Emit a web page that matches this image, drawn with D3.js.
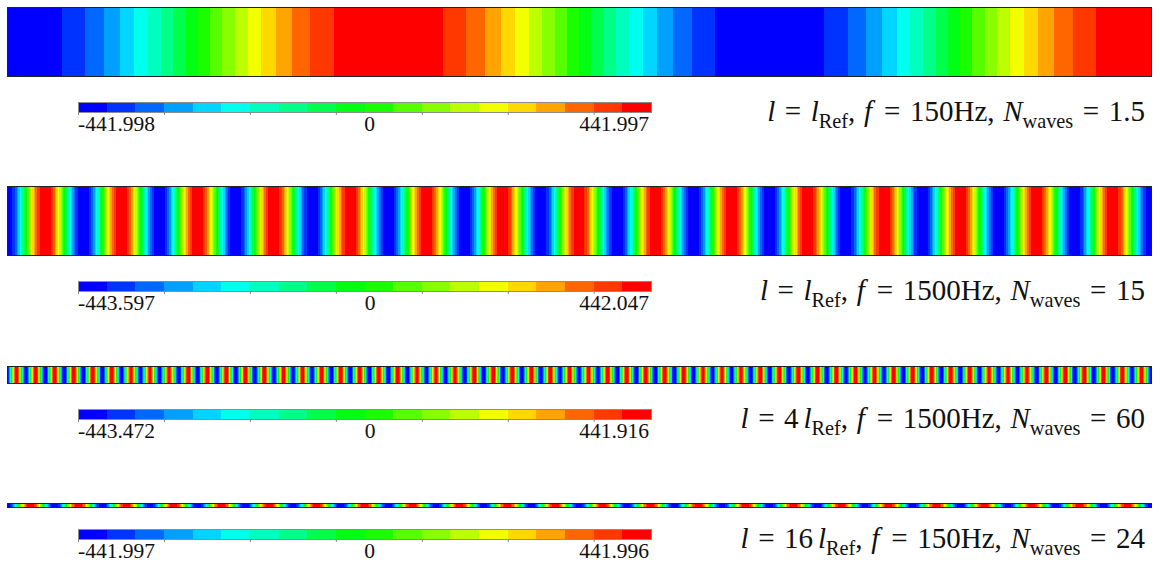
<!DOCTYPE html>
<html>
<head>
<meta charset="utf-8">
<script src="https://cdn.jsdelivr.net/npm/d3@7"></script>
<style>
  body { margin: 0; background: #fff; }
  svg { display: block; }
</style>
</head>
<body>
<script>
// four wave cases, top to bottom
var lengthFactor = [1, 1, 4, 16];
var lengthText = ["", "", "4", "16"];
var freqHz = [150, 1500, 1500, 150];
var nWaves = [1.5, 15, 60, 24];
var minVals = [-441.998, -443.597, -443.472, -441.997];
var maxVals = [441.997, 442.047, 441.916, 441.996];

// 20 contour levels (tecplot style rainbow)
var levelColors = ["#0000ff", "#0033ff", "#0068ff", "#00a0ff", "#00d6ff",
                   "#00ffee", "#00ffbe", "#00ff88", "#00ff4c", "#00ff12",
                   "#1aff00", "#55ff00", "#88ff00", "#bbff00", "#f2ff00",
                   "#ffd800", "#ffa400", "#ff6600", "#ff3800", "#ff0000"];

var W = 1160, H = 569;
var svg = d3.select("body").append("svg").attr("width", W).attr("height", H);

// layout
var stripX = [7, 1151];
var stripTops = [7, 186, 366, 503];
var baseHeight = 69;
var labelBase = [121, 300, 428, 548];
var barX = [78, 651];
var fs = 29;

nWaves.forEach(function(n, i) {
  var g = svg.append("g");
  var color = d3.scaleQuantize().domain([minVals[i], maxVals[i]]).range(levelColors);
  var x = d3.scaleLinear().domain([0, n]).range(stripX);
  var mid = (minVals[i] + maxVals[i]) / 2, amp = (maxVals[i] - minVals[i]) / 2;
  var h = baseHeight / lengthFactor[i];
  var top = stripTops[i];

  // sample the field per pixel column, merge equal colours into runs
  var runs = [];
  for (var px = stripX[0]; px < stripX[1]; px++) {
    var ph = x.invert(px + 0.5);
    var c = color(mid - amp * Math.cos(2 * Math.PI * ph));
    var last = runs[runs.length - 1];
    if (last && last.c === c) last.x1 = px + 1;
    else runs.push({x0: px, x1: px + 1, c: c});
  }
  g.selectAll("rect.band").data(runs).enter().append("rect")
    .attr("class", "band")
    .attr("x", function(d) { return d.x0; })
    .attr("width", function(d) { return d.x1 - d.x0; })
    .attr("y", top).attr("height", h)
    .attr("fill", function(d) { return d.c; })
    .attr("shape-rendering", "crispEdges");
  g.append("rect")
    .attr("x", stripX[0]).attr("y", top)
    .attr("width", stripX[1] - stripX[0]).attr("height", h)
    .attr("fill", "none").attr("stroke", "#222").attr("stroke-width", 1)
    .attr("shape-rendering", "crispEdges");

  // colour bar
  var barTop = labelBase[i] - 19, barH = 10;
  var xb = d3.scaleLinear().domain([minVals[i], maxVals[i]]).range(barX);
  var edges = [minVals[i]].concat(color.thresholds(), [maxVals[i]]);
  g.selectAll("rect.lev").data(levelColors).enter().append("rect")
    .attr("class", "lev")
    .attr("x", function(d, k) { return xb(edges[k]); })
    .attr("width", function(d, k) { return xb(edges[k + 1]) - xb(edges[k]); })
    .attr("y", barTop).attr("height", barH)
    .attr("fill", function(d) { return d; })
    .attr("shape-rendering", "crispEdges");
  g.append("rect")
    .attr("x", barX[0]).attr("y", barTop)
    .attr("width", barX[1] - barX[0]).attr("height", barH)
    .attr("fill", "none").attr("stroke", "#8c8c8c")
    .attr("shape-rendering", "crispEdges");
  var ax = g.append("g").attr("transform", "translate(0," + (barTop + barH) + ")")
    .call(d3.axisBottom(xb)
      .tickValues(edges.filter(function(d, k) { return k % 3 === 0 && k < 20; }))
      .tickSize(3).tickFormat(""));
  ax.select(".domain").remove();
  ax.selectAll("line").attr("stroke", "#888");

  var lab = g.append("g").attr("font-family", "'Liberation Serif', 'Times New Roman', serif")
    .attr("font-size", 21.5).attr("fill", "#111");
  var ly = barTop + 29;
  lab.append("text").attr("x", xb(minVals[i])).attr("y", ly)
    .attr("text-anchor", "start").text(minVals[i].toFixed(3));
  lab.append("text").attr("x", xb(0) + 5).attr("y", ly)
    .attr("text-anchor", "middle").text("0");
  lab.append("text").attr("x", xb(maxVals[i]) - 2).attr("y", ly)
    .attr("text-anchor", "end").text(maxVals[i].toFixed(3));

  // case label, math style
  var rel = 0.33, com = 0.3, sub = 0.24;
  var toks = [{t: "l", it: 1}, {t: "=", dx: rel}];
  if (lengthText[i]) toks.push({t: lengthText[i], dx: rel}, {t: "l", it: 1, dx: 0.17});
  else toks.push({t: "l", it: 1, dx: rel});
  toks.push({t: "Ref", sub: 1}, {t: ","}, {t: "f", it: 1, dx: com},
            {t: "=", dx: rel + 0.08}, {t: freqHz[i] + "Hz", dx: rel}, {t: ","},
            {t: "N", it: 1, dx: com}, {t: "waves", sub: 1}, {t: "=", dx: rel},
            {t: String(nWaves[i]), dx: rel});
  var tx = g.append("text").attr("x", 1145).attr("y", labelBase[i])
    .attr("text-anchor", "end")
    .attr("font-family", "'Liberation Serif', 'Times New Roman', serif")
    .attr("font-size", fs).attr("fill", "#111");
  var shifted = false;
  toks.forEach(function(d) {
    var s = tx.append("tspan").text(d.t);
    var dx = (d.dx || 0) * fs;
    if (d.it) s.attr("font-style", "italic");
    if (d.sub) {
      s.attr("font-size", fs * 0.7).attr("dy", sub * fs);
      shifted = true;
    } else if (shifted) {
      s.attr("dy", -sub * fs);
      shifted = false;
    }
    if (dx) s.attr("dx", dx);
  });
});
</script>
</body>
</html>
